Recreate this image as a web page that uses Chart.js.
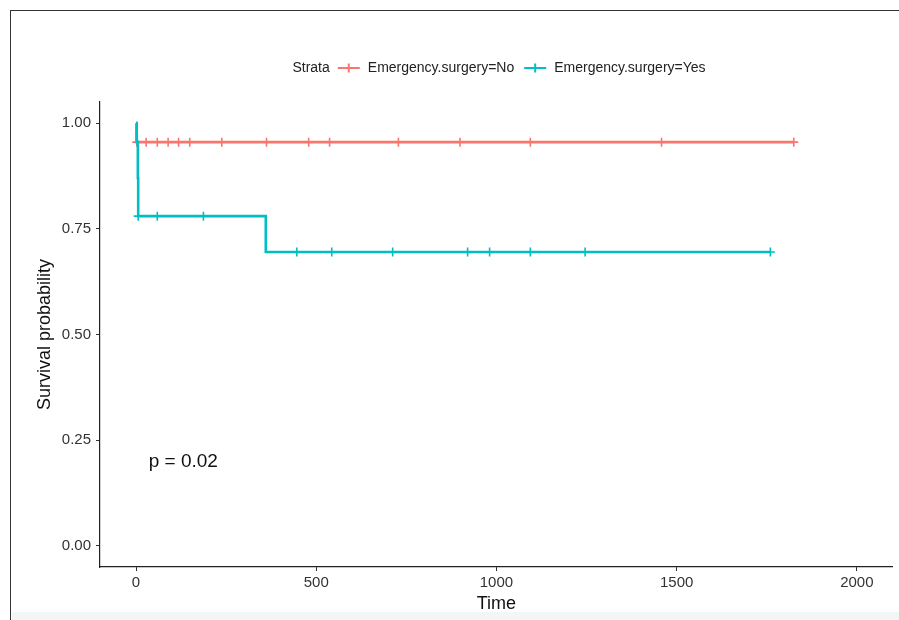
<!DOCTYPE html>
<html>
<head>
<meta charset="utf-8">
<title>Survival by emergency surgery</title>
<script src="https://cdn.jsdelivr.net/npm/chart.js@4.4.1/dist/chart.umd.min.js"></script>
<style>
  html, body { margin: 0; padding: 0; background: #fff; overflow: hidden; }
  #wrap { position: relative; width: 899px; height: 620px; }
  #frame { position: absolute; left: 10px; top: 10px; width: 900px; height: 620px;
           border-left: 1.5px solid #333; border-top: 1.5px solid #333; }
  #strip { position: absolute; left: 12px; top: 612px; width: 900px; height: 10px; background: #f4f5f5; }
  canvas { position: absolute; left: 0; top: 0; }
</style>
</head>
<body>
<div id="wrap">
  <div id="frame"></div>
  <div id="strip"></div>
  <canvas id="chart" width="899" height="620"></canvas>
</div>
<script>
const strataTitle = 'Strata'
const groupNames = ['Emergency.surgery=No', 'Emergency.surgery=Yes']
const groupColors = ['#F8766D', '#00BFC4']

// step points of each curve: time and survival from that time on
const noTimes = [0, 1, 1825]
const noSurv = [1.0, 0.955, 0.955]
const noCensored = [2, 28, 59, 89, 118, 149, 238, 362, 479, 537, 728, 899, 1094, 1458, 1825]

const yesTimes = [0, 2, 5, 6, 360, 1760]
const yesSurv = [1.0, 0.956, 0.87, 0.78, 0.695, 0.695]
const yesCensored = [6, 59, 187, 446, 543, 712, 920, 981, 1094, 1246, 1760]

const xTicks = [0, 500, 1000, 1500, 2000]
const yTicks = [0, 0.25, 0.5, 0.75, 1]
const pValue = 'p = 0.02'
const pAt = { x: 35, y: 0.2 }

const fontFamily = '"Liberation Sans", Arial, Helvetica, sans-serif'
Chart.defaults.font.family = fontFamily


// survival level of a step curve at time t
function survAt(times, surv, t) {
    let s = surv[0]
    for (let i = 0; i < times.length; i++) {
        if (times[i] <= t) s = surv[i]
    }
    return s
}


function curveDataset(times, surv, color, order) {
    return {
        data: times.map((t, i) => ({ x: t, y: surv[i] })),
        showLine: true,
        stepped: 'before',
        borderColor: color,
        borderWidth: 2.6,
        pointRadius: 0,
        fill: false,
        order: order
    }
}


function censorDataset(times, surv, censored, color, order) {
    return {
        data: censored.map(t => ({ x: t, y: survAt(times, surv, t) })),
        showLine: false,
        pointStyle: 'cross',
        pointRadius: 4.5,
        borderColor: color,
        borderWidth: 1.6,
        order: order
    }
}


const survLegend = {
    id: 'survLegend',
    afterDraw(chart) {
        const ctx = chart.ctx
        ctx.save()

        // legend row
        ctx.font = '14px ' + fontFamily
        ctx.textBaseline = 'middle'
        ctx.textAlign = 'left'
        const gap = 8, sym = 22, itemGap = 10
        let total = ctx.measureText(strataTitle).width
        groupNames.forEach((n, i) => {
            total += gap + sym + gap + ctx.measureText(n).width
            if (i > 0) total += itemGap
        })
        let x = 503 - total / 2
        const y = 68
        ctx.fillStyle = '#222'
        ctx.fillText(strataTitle, x, y)
        x += ctx.measureText(strataTitle).width + gap
        groupNames.forEach((n, i) => {
            ctx.strokeStyle = groupColors[i]
            ctx.lineWidth = 2
            ctx.beginPath()
            ctx.moveTo(x, y)
            ctx.lineTo(x + sym, y)
            ctx.moveTo(x + sym / 2, y - 4.5)
            ctx.lineTo(x + sym / 2, y + 4.5)
            ctx.stroke()
            x += sym + gap
            ctx.fillStyle = '#222'
            ctx.fillText(n, x, y)
            x += ctx.measureText(n).width + itemGap
        })

        // p-value label
        const xs = chart.scales.x, ys = chart.scales.y
        ctx.font = '19px ' + fontFamily
        ctx.fillStyle = '#111'
        ctx.fillText(pValue, xs.getPixelForValue(pAt.x), ys.getPixelForValue(pAt.y))
        ctx.restore()
    }
}


function renderChart() {
    const axisGrid = { drawOnChartArea: false, drawTicks: true, tickLength: 4, tickColor: '#333', tickWidth: 1 }
    const axisBorder = { color: '#222', width: 1.2 }

    return new Chart(document.getElementById('chart'), {
        type: 'scatter',
        data: {
            datasets: [
                curveDataset(noTimes, noSurv, groupColors[0], 4),
                censorDataset(noTimes, noSurv, noCensored, groupColors[0], 3),
                curveDataset(yesTimes, yesSurv, groupColors[1], 2),
                censorDataset(yesTimes, yesSurv, yesCensored, groupColors[1], 1)
            ]
        },
        options: {
            responsive: false,
            animation: false,
            layout: { padding: { top: 102, right: 3, bottom: 0, left: 0 } },
            plugins: { legend: { display: false }, tooltip: { enabled: false } },
            scales: {
                x: {
                    type: 'linear',
                    min: -100,
                    max: 2100,
                    afterBuildTicks: s => { s.ticks = xTicks.map(v => ({ value: v })) },
                    afterFit: s => { s.height = 53 },
                    grid: axisGrid,
                    border: axisBorder,
                    ticks: { color: '#333', font: { size: 15 }, padding: 3, maxRotation: 0,
                             callback: v => String(v) },
                    title: { display: true, text: 'Time', color: '#111', font: { size: 18 },
                             padding: { top: 0, bottom: 5 } }
                },
                y: {
                    type: 'linear',
                    min: -0.05,
                    max: 1.05,
                    afterBuildTicks: s => { s.ticks = yTicks.map(v => ({ value: v })) },
                    afterFit: s => { s.width = 100 },
                    grid: axisGrid,
                    border: axisBorder,
                    ticks: { color: '#333', font: { size: 15 }, padding: 5,
                             callback: v => v.toFixed(2) },
                    title: { display: true, text: 'Survival probability', color: '#111', font: { size: 18 },
                             padding: { top: 34, bottom: 0 } }
                }
            }
        },
        plugins: [survLegend]
    })
}

renderChart()
</script>
</body>
</html>
